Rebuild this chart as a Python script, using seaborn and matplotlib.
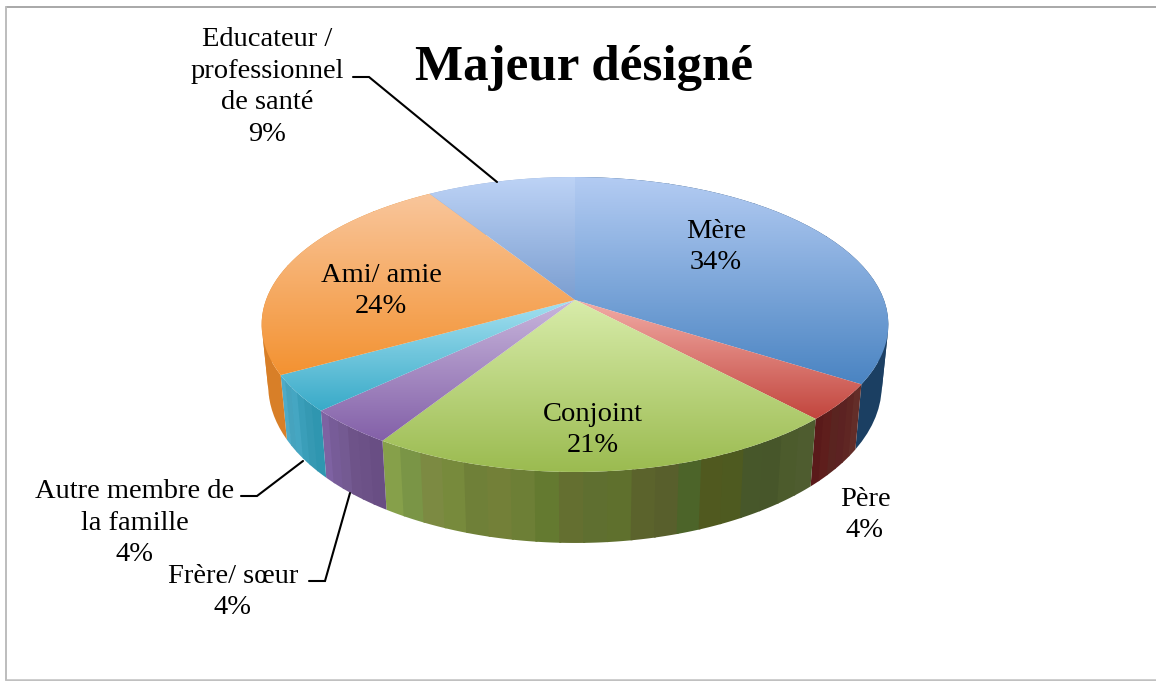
import numpy as np
import matplotlib
matplotlib.use("Agg")
import matplotlib.pyplot as plt
from matplotlib.patches import Polygon
import seaborn as sns

# --- DATA ---
categories = ["Mère", "Père", "Conjoint", "Frère/ sœur",
              "Autre membre de\nla famille", "Ami/ amie",
              "Educateur /\nprofessionnel\nde santé"]
values = [34, 4, 21, 4, 4, 24, 9]
title = "Majeur désigné"

# vertical gradient of each top face (light to dark)
top_colors = [("#b4ccf3", "#4a84c2"), ("#f2aca6", "#c2453d"), ("#d8ecaa", "#9bbb50"),
              ("#c8b6dc", "#8360a8"), ("#a4e0f0", "#38aac8"), ("#f9c69c", "#f39231"),
              ("#bdd3f6", "#7b9ed0")]
# bands along the side wall, in pie order (clockwise)
wall_colors = [["#1f4a78", "#1a3f66", "#193d64", "#1c3a60", "#1d4064", "#1b3f62"],
               ["#632d28", "#5f2623", "#5c2222", "#5a2420", "#5e1e1c", "#5a1a1a"],
               ["#4e5c2f", "#4c5b2c", "#47562a", "#47572a", "#4e5a20", "#50591f",
                "#4c6429", "#585f2c", "#5b632c", "#5f702d", "#5f6f30", "#646f30",
                "#647a30", "#6d7f36", "#738038", "#6f8038", "#778a3c", "#7c8a42",
                "#7a9546", "#86a04a"],
               ["#694e84", "#6c5187", "#6e5389", "#745a92", "#775c98", "#7e62a2"],
               ["#2f96b0", "#3599b3", "#3a9eb9", "#45a6c2", "#46a3be", "#4fabc8"],
               ["#d87f28", "#da8229", "#dc842c", "#de872e", "#e08a30", "#e08a30"],
               ["#8fa8d0", "#8fa8d0"]]

# --- LAYOUT (pixels) ---
W, H = 1156, 681
CX, CY = 575, 300       # apex of the pie
A, B, K = 309, 143.4, 0.166   # projection of the disc
label_pos = [(716, 247), (865, 515), (593, 430), (233, 592), (135, 523), (381, 291), (267, 87)]
leaders = {"Educ": [(353, 77), (369, 77), (497, 182)],
           "Autre": [(241, 496), (257, 496), (303, 461)],
           "Frere": [(309, 581), (325, 581), (350, 493)]}


def top_edge(theta):
    """Point of the top rim for an angle measured clockwise from 12 o'clock."""
    u, v = np.sin(theta), np.cos(theta)
    w = 1 + K * v
    return CX + A * u / w, CY - B * v / w


def bottom_edge(theta):
    x, y = top_edge(theta)
    return CX + 0.979 * (x - CX), 359.5 + 1.067 * (y - CY)


sns.set_theme(style="white")
plt.rcParams["font.family"] = ["Liberation Serif", "DejaVu Serif"]

fig = plt.figure(figsize=(W / 100, H / 100), dpi=100)
ax = fig.add_axes([0, 0, 1, 1])

bounds = np.cumsum([0] + values) / sum(values) * 2 * np.pi

# 1. Side walls, each band runs a bit under the next one to hide seams
for i in range(len(values)):
    n = len(wall_colors[i])
    edges = np.linspace(bounds[i], bounds[i + 1], n + 1)
    for j in range(n):
        end = edges[j + 1] + (0.006 if j < n - 1 else 0)
        ts = np.linspace(edges[j], end, 8)
        pts = [top_edge(t) for t in ts] + [bottom_edge(t) for t in ts[::-1]]
        ax.add_patch(Polygon(pts, closed=True, facecolor=wall_colors[i][j],
                             edgecolor="none", linewidth=0, zorder=2 - j * 0.001))

# 2. Top faces, each with its own vertical gradient
for i in range(len(values)):
    ts = np.linspace(bounds[i], bounds[i + 1], 120)
    pts = [(CX, CY)] + [top_edge(t) for t in ts]
    xs, ys = zip(*pts)
    poly = Polygon(pts, closed=True, facecolor="none", edgecolor="none",
                   transform=ax.transData)
    ax.add_patch(poly)
    cmap = sns.blend_palette(top_colors[i], as_cmap=True)
    grad = np.linspace(0, 1, 256).reshape(-1, 1)
    im = ax.imshow(grad, cmap=cmap, aspect="auto", zorder=3,
                   extent=(min(xs) - 1, max(xs) + 1, max(ys), min(ys)), origin="upper")
    im.set_clip_path(poly)

ax.set_xlim(0, W)
ax.set_ylim(H, 0)
ax.axis("off")

# 3. Frame (no right side in the picture)
ax.plot([5.5, W], [6.5, 6.5], color="#9a9a9a", linewidth=1.2, zorder=1)
ax.plot([5.5, 5.5], [6.5, 680], color="#bdbdbd", linewidth=1.4, zorder=1)
ax.plot([5.5, W], [679.8, 679.8], color="#c0c0c0", linewidth=1.8, zorder=1)

# 4. Leader lines
for pts in leaders.values():
    xs, ys = zip(*pts)
    ax.plot(xs, ys, color="black", linewidth=1.5, zorder=5, solid_joinstyle="miter")

# 5. Labels
for name, val, (x, y) in zip(categories, values, label_pos):
    ax.text(x, y, f"{name}\n{val}%", ha="center", va="center", fontsize=20.5,
            linespacing=1.36, color="black", zorder=6)

ax.text(584.5, 68, title, ha="center", va="center", fontsize=36.7,
        fontweight="bold", color="black", zorder=6)

fig.savefig("out.png", dpi=100)
plt.close(fig)
